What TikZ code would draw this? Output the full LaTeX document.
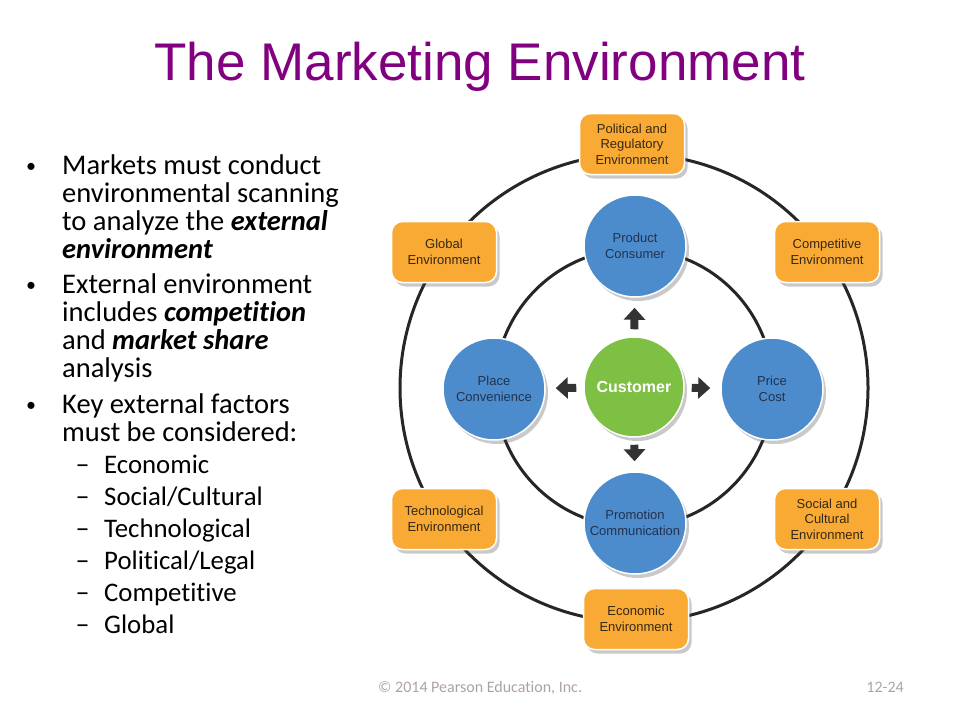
\documentclass[tikz,border=0pt]{standalone}
\usepackage{fontspec}
\setmainfont{Carlito}[Ligatures=NoCommon]
\newfontfamily\arialfont{Liberation Sans}
\usetikzlibrary{shadows, arrows.meta}

\definecolor{titlepurple}{RGB}{128,0,128}
\definecolor{envorange}{RGB}{248,170,52}
\definecolor{mixblue}{RGB}{76,140,204}
\definecolor{custgreen}{RGB}{126,192,68}
\definecolor{navytext}{RGB}{36,50,80}
\definecolor{browntext}{RGB}{52,40,22}
\definecolor{footgray}{RGB}{172,160,172}

\begin{document}
\begin{tikzpicture}[x=1pt, y=-1pt,
  envbox/.style={rectangle, rounded corners=11pt, fill=envorange, draw=white,
    line width=1.5pt, minimum width=105pt, minimum height=61pt, inner sep=2pt,
    align=center, text=browntext, font=\arialfont\fontsize{13}{15.5}\selectfont,
    drop shadow={shadow xshift=3pt, shadow yshift=-4pt, opacity=0.3, fill=black!70}},
  mixcirc/.style={circle, fill=mixblue, draw=white, line width=1.5pt,
    minimum size=102pt, inner sep=0pt, align=center, text=navytext,
    font=\arialfont\fontsize{13}{15.5}\selectfont,
    drop shadow={shadow xshift=3pt, shadow yshift=-4pt, opacity=0.3, fill=black!70}},
  ring/.style={line width=3pt, draw=black!85},
  pusharrow/.style={line width=8pt, draw=black!80, -{Triangle[width=21pt,length=12pt]},
    shorten <=7pt, shorten >=10pt},
  bodyline/.style={anchor=base west, inner sep=0pt, font=\fontsize{28.5}{28}\selectfont},
  subline/.style={anchor=base west, inner sep=0pt, font=\fontsize{26.8}{28}\selectfont},
  bulletmark/.style={anchor=base, inner sep=0pt, font=\fontsize{20}{28}\selectfont},
  dashmark/.style={anchor=base, inner sep=0pt, font=\fontsize{28}{28}\selectfont}
]
  \useasboundingbox (0,0) rectangle (960,720);
  % Titel
  \node[anchor=base, inner sep=0pt, text=titlepurple,
        font=\arialfont\fontsize{53}{60}\selectfont] (title) at (480,80) {The Marketing Environment};
  % Aufzaehlung links
  \node[bulletmark] (b1) at (31,172) {•};
  \node[bodyline] (t1) at (62,174) {Markets must conduct};
  \node[bodyline] (t2) at (62,202) {environmental scanning};
  \node[bodyline] (t3) at (62,230) {to analyze the \textbf{\textit{external}}};
  \node[bodyline] (t4) at (62,258) {\textbf{\textit{environment}}};
  \node[bulletmark] (b2) at (31,291) {•};
  \node[bodyline] (t5) at (62,293) {External environment};
  \node[bodyline] (t6) at (62,321) {includes \textbf{\textit{competition}}};
  \node[bodyline] (t7) at (62,349) {and \textbf{\textit{market share}}};
  \node[bodyline] (t8) at (62,377) {analysis};
  \node[bulletmark] (b3) at (31,411) {•};
  \node[bodyline] (t9) at (62,413) {Key external factors};
  \node[bodyline] (t10) at (62,441) {must be considered:};
  \foreach \fac [count=\k] in {Economic, Social/Cultural, Technological,
                               Political/Legal, Competitive, Global} {
    \node[dashmark] (m\k) at (82.5,{473+32*(\k-1)}) {–};
    \node[subline] (f\k) at (104,{473+32*(\k-1)}) {\fac};
  }
  % Ringe
  \coordinate (ctr) at (634,388);
  \draw[ring] (ctr) circle[radius=234];
  \draw[ring] (ctr) circle[radius=139];
  % Umfeld (aussen)
  \node[envbox] (pol) at (632,144) {Political and\\Regulatory\\Environment};
  \node[envbox] (glob) at (444,252) {Global\\Environment};
  \node[envbox] (comp) at (827,252) {Competitive\\Environment};
  \node[envbox] (tech) at (444,519) {Technological\\Environment};
  \node[envbox] (soc) at (827,519) {Social and\\Cultural\\Environment};
  \node[envbox] (econ) at (636,619) {Economic\\Environment};
  % Marketing-Mix (innen)
  \node[mixcirc] (prod) at (635,246) {Product\\Consumer};
  \node[mixcirc] (place) at (494,389) {Place\\Convenience};
  \node[mixcirc] (price) at (772,389) {Price\\Cost};
  \node[mixcirc] (promo) at (635,523) {Promotion\\Communication};
  \node[mixcirc, fill=custgreen, minimum size=100pt, text=white,
        font=\arialfont\bfseries\fontsize{16}{18}\selectfont] (cust) at (634,387) {Customer};
  % Pfeile
  \draw[pusharrow] (cust) -- (prod);
  \draw[pusharrow] (cust) -- (place);
  \draw[pusharrow] (cust) -- (price);
  \draw[pusharrow] (cust) -- (promo);
  % Fusszeile
  \node[anchor=base west, inner sep=0pt, text=footgray, font=\fontsize{16}{18}\selectfont]
    (copy) at (378,692) {© 2014 Pearson Education, Inc.};
  \node[anchor=base east, inner sep=0pt, text=footgray, font=\fontsize{16}{18}\selectfont]
    (page) at (904,692) {12-24};
\end{tikzpicture}
\end{document}
